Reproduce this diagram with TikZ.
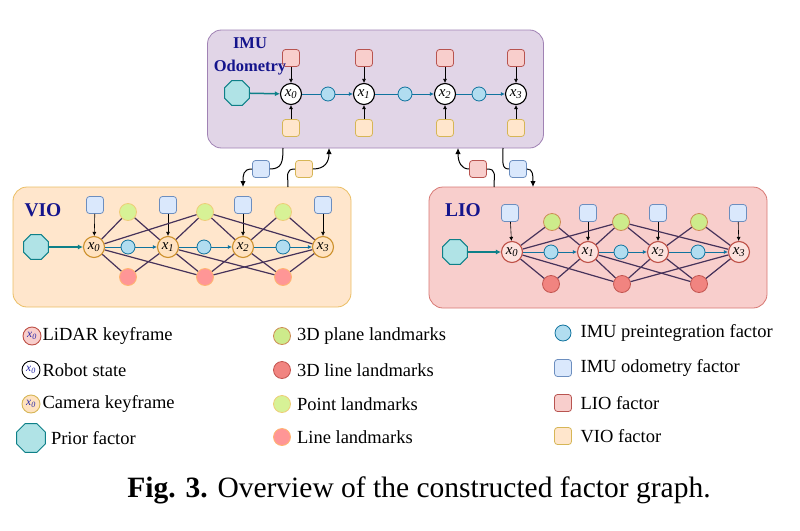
\documentclass[tikz,border=0pt]{standalone}
\usepackage{fontspec}
\setmainfont{Liberation Serif}
\usepackage{tikz}
\usetikzlibrary{shapes.geometric,arrows.meta,positioning}
\definecolor{imufill}{RGB}{225,213,231}
\definecolor{imuline}{RGB}{160,130,180}
\definecolor{viofill}{RGB}{255,230,204}
\definecolor{violine}{RGB}{235,190,100}
\definecolor{liofill}{RGB}{248,206,204}
\definecolor{lioline}{RGB}{215,120,115}
\definecolor{titleblue}{RGB}{20,20,140}
\definecolor{prifill}{RGB}{176,227,230}
\definecolor{priline}{RGB}{14,128,136}
\definecolor{pimfill}{RGB}{177,221,240}
\definecolor{pimline}{RGB}{16,115,158}
\definecolor{odofill}{RGB}{218,232,252}
\definecolor{odoline}{RGB}{108,142,191}
\definecolor{lfacfill}{RGB}{248,206,204}
\definecolor{lfacline}{RGB}{184,84,80}
\definecolor{vfacfill}{RGB}{255,230,204}
\definecolor{vfacline}{RGB}{214,182,86}
\definecolor{planefill}{RGB}{205,235,139}
\definecolor{planeline}{RGB}{205,140,85}
\definecolor{pointfill}{RGB}{215,242,150}
\definecolor{pointline}{RGB}{238,205,120}
\definecolor{llinefill}{RGB}{241,132,128}
\definecolor{llineline}{RGB}{195,85,80}
\definecolor{vlinefill}{RGB}{255,150,150}
\definecolor{vlineline}{RGB}{255,181,112}
\definecolor{vstfill}{RGB}{255,226,192}
\definecolor{vstline}{RGB}{205,145,45}
\definecolor{lstfill}{RGB}{252,226,222}
\definecolor{lstline}{RGB}{190,80,70}
\definecolor{obscol}{RGB}{70,50,90}
\definecolor{legblue}{RGB}{40,40,170}
\newcommand{\xk}[1]{\textit{x}\textsubscript{\textit{#1}}}
\newcommand{\legx}{\textcolor{legblue}{\fontsize{11.5}{11.5}\selectfont\xk{0}}}

\begin{document}
\begin{tikzpicture}[x=1pt,y=-1pt,
    box/.style={rectangle,rounded corners=14pt,line width=0.8pt,inner sep=0pt},
    state/.style={circle,draw,line width=1.1pt,minimum size=21pt,inner sep=0pt,font=\fontsize{15}{15}\selectfont},
    pim/.style={circle,draw=pimline,fill=pimfill,line width=0.8pt,minimum size=14pt,inner sep=0pt},
    fac/.style={rectangle,rounded corners=3pt,draw,line width=0.8pt,minimum size=17pt,inner sep=0pt},
    lmk/.style={circle,draw,line width=0.8pt,minimum size=17pt,inner sep=0pt},
    prior/.style={regular polygon,regular polygon sides=8,draw=priline,fill=prifill,line width=1pt,minimum size=27pt,inner sep=0pt},
    boxtitle/.style={font=\bfseries\fontsize{19.5}{22}\selectfont,text=titleblue},
    legtext/.style={inner sep=0pt,font=\fontsize{18.5}{20}\selectfont},
    priarr/.style={priline,line width=1.5pt,-{Latex[length=5pt,width=5pt]}},
    chain/.style={pimline,line width=0.8pt},
    chainarr/.style={chain,-{Latex[length=4pt,width=4pt]}},
    facarr/.style={black,line width=0.6pt,-{Latex[length=4pt,width=4pt]}},
    obs/.style={obscol,line width=1.2pt},
    link/.style={black,line width=1pt,-{Latex[length=6pt,width=5.5pt]}}]
\useasboundingbox (0,0) rectangle (800,530);

% the three sub-graphs
\node[box,draw=imuline,fill=imufill,minimum width=336pt,minimum height=118pt] (imu) at (375.5,89) {};
\node[box,draw=violine,fill=viofill,minimum width=338pt,minimum height=120pt] (vio) at (182,247) {};
\node[box,draw=lioline,fill=liofill,minimum width=338pt,minimum height=121pt] (lio) at (598,247.5) {};

% IMU odometry graph
\node[prior] (ipr) at (237,93) {};
\node[state,fill=white] (i0) at (291,94) {\xk{0}};
\node[state,fill=white] (i1) at (364,94) {\xk{1}};
\node[state,fill=white] (i2) at (445,94) {\xk{2}};
\node[state,fill=white] (i3) at (516,94) {\xk{3}};
\node[pim] (ip0) at (328,94) {}; \node[pim] (ip1) at (405,94) {}; \node[pim] (ip2) at (479,94) {};
\node[fac,draw=lfacline,fill=lfacfill] (il0) at (291,58) {}; \node[fac,draw=lfacline,fill=lfacfill] (il1) at (364,58) {};
\node[fac,draw=lfacline,fill=lfacfill] (il2) at (445,58) {}; \node[fac,draw=lfacline,fill=lfacfill] (il3) at (516,58) {};
\node[fac,draw=vfacline,fill=vfacfill] (iv0) at (291,128) {}; \node[fac,draw=vfacline,fill=vfacfill] (iv1) at (364,128) {};
\node[fac,draw=vfacline,fill=vfacfill] (iv2) at (445,128) {}; \node[fac,draw=vfacline,fill=vfacfill] (iv3) at (516,128) {};
\draw[priarr] (ipr) -- (i0);
\draw[chain] (i0) -- (ip0); \draw[chainarr] (ip0) -- (i1);
\draw[chain] (i1) -- (ip1); \draw[chainarr] (ip1) -- (i2);
\draw[chain] (i2) -- (ip2); \draw[chainarr] (ip2) -- (i3);
\draw[facarr] (il0) -- (i0); \draw[facarr] (il1) -- (i1); \draw[facarr] (il2) -- (i2); \draw[facarr] (il3) -- (i3);
\draw[facarr] (iv0) -- (i0); \draw[facarr] (iv1) -- (i1); \draw[facarr] (iv2) -- (i2); \draw[facarr] (iv3) -- (i3);
\node[boxtitle,font=\bfseries\fontsize{16.5}{23}\selectfont,align=center] (imut) at (250,56) {IMU\\Odometry};

% VIO graph
\node[boxtitle] (viot) at (43,210) {VIO};
\node[prior] (vpr) at (36,247) {};
\node[state,draw=vstline,fill=vstfill] (v0) at (94,247) {\xk{0}};
\node[state,draw=vstline,fill=vstfill] (v1) at (168,247) {\xk{1}};
\node[state,draw=vstline,fill=vstfill] (v2) at (243,247) {\xk{2}};
\node[state,draw=vstline,fill=vstfill] (v3) at (323,247) {\xk{3}};
\node[pim] (vp0) at (128,247) {}; \node[pim] (vp1) at (204,247) {}; \node[pim] (vp2) at (283,247) {};
\node[fac,draw=odoline,fill=odofill] (vo0) at (95,205) {}; \node[fac,draw=odoline,fill=odofill] (vo1) at (168,205) {};
\node[fac,draw=odoline,fill=odofill] (vo2) at (243,205) {}; \node[fac,draw=odoline,fill=odofill] (vo3) at (323,205) {};
\node[lmk,draw=pointline,fill=pointfill] (vg0) at (128,212) {}; \node[lmk,draw=pointline,fill=pointfill] (vg1) at (205,212) {};
\node[lmk,draw=pointline,fill=pointfill] (vg2) at (283,212) {};
\node[lmk,draw=vlineline,fill=vlinefill] (vr0) at (128,277) {}; \node[lmk,draw=vlineline,fill=vlinefill] (vr1) at (205,277) {};
\node[lmk,draw=vlineline,fill=vlinefill] (vr2) at (283,277) {};
\draw[priarr] (vpr) -- (v0);
\draw[chain] (v0) -- (vp0); \draw[chainarr] (vp0) -- (v1);
\draw[chain] (v1) -- (vp1); \draw[chainarr] (vp1) -- (v2);
\draw[chain] (v2) -- (vp2); \draw[chainarr] (vp2) -- (v3);
\draw[facarr] (vo0) -- (v0); \draw[facarr] (vo1) -- (v1); \draw[facarr] (vo2) -- (v2); \draw[facarr] (vo3) -- (v3);
\draw[obs] (vg0) -- (v0) (vg0) -- (v1);
\draw[obs] (vg1) -- (v0) (vg1) -- (v1) (vg1) -- (v2) (vg1) -- (v3);
\draw[obs] (vg2) -- (v2) (vg2) -- (v3);
\draw[obs] (vr0) -- (v0) (vr0) -- (v1);
\draw[obs] (vr1) -- (v0) (vr1) -- (v1) (vr1) -- (v2) (vr1) -- (v3);
\draw[obs] (vr2) -- (v1) (vr2) -- (v2) (vr2) -- (v3);

% LIO graph
\node[boxtitle] (liot) at (463,210) {LIO};
\node[prior] (lpr) at (455,252) {};
\node[state,draw=lstline,fill=lstfill] (l0) at (512,252) {\xk{0}};
\node[state,draw=lstline,fill=lstfill] (l1) at (588,252) {\xk{1}};
\node[state,draw=lstline,fill=lstfill] (l2) at (658,252) {\xk{2}};
\node[state,draw=lstline,fill=lstfill] (l3) at (739,252) {\xk{3}};
\node[pim] (lp0) at (551,252) {}; \node[pim] (lp1) at (621,252) {}; \node[pim] (lp2) at (698,252) {};
\node[fac,draw=odoline,fill=odofill] (lo0) at (510,213) {}; \node[fac,draw=odoline,fill=odofill] (lo1) at (588,213) {};
\node[fac,draw=odoline,fill=odofill] (lo2) at (658,213) {}; \node[fac,draw=odoline,fill=odofill] (lo3) at (738,213) {};
\node[lmk,draw=planeline,fill=planefill] (lg0) at (552,222) {}; \node[lmk,draw=planeline,fill=planefill] (lg1) at (621,222) {};
\node[lmk,draw=planeline,fill=planefill] (lg2) at (699,222) {};
\node[lmk,draw=llineline,fill=llinefill] (lr0) at (551,284) {}; \node[lmk,draw=llineline,fill=llinefill] (lr1) at (622,284) {};
\node[lmk,draw=llineline,fill=llinefill] (lr2) at (699,284) {};
\draw[priarr] (lpr) -- (l0);
\draw[chain] (l0) -- (lp0); \draw[chainarr] (lp0) -- (l1);
\draw[chain] (l1) -- (lp1); \draw[chainarr] (lp1) -- (l2);
\draw[chain] (l2) -- (lp2); \draw[chainarr] (lp2) -- (l3);
\draw[facarr] (lo0) -- (l0); \draw[facarr] (lo1) -- (l1); \draw[facarr] (lo2) -- (l2); \draw[facarr] (lo3) -- (l3);
\draw[obs] (lg0) -- (l0) (lg0) -- (l1);
\draw[obs] (lg1) -- (l0) (lg1) -- (l1) (lg1) -- (l2) (lg1) -- (l3);
\draw[obs] (lg2) -- (l2) (lg2) -- (l3);
\draw[obs] (lr0) -- (l0) (lr0) -- (l1);
\draw[obs] (lr1) -- (l0) (lr1) -- (l1) (lr1) -- (l2) (lr1) -- (l3);
\draw[obs] (lr2) -- (l1) (lr2) -- (l2) (lr2) -- (l3);

% links between the graphs
\coordinate (imuA) at (283,148); \coordinate (vioA) at (243,187);
\coordinate (vioB) at (288,187); \coordinate (imuB) at (329,148);
\coordinate (lioA) at (494,187); \coordinate (imuC) at (458,148);
\coordinate (imuD) at (503,148); \coordinate (lioB) at (533,187);
\node[fac,draw=odoline,fill=odofill] (bv) at (261,169) {};
\node[fac,draw=vfacline,fill=vfacfill] (yv) at (304,169) {};
\node[fac,draw=lfacline,fill=lfacfill] (rl) at (478,169) {};
\node[fac,draw=odoline,fill=odofill] (bl) at (518,169) {};
\draw[link] (imuA) .. controls +(0,14) and +(12,0) .. (bv.east) (bv.west) .. controls +(-9,0) and +(0,-12) .. (vioA);
\draw[link] (vioB) .. controls +(0,-12) and +(-10,0) .. (yv.west) (yv.east) .. controls +(12,0) and +(0,14) .. (imuB);
\draw[link] (lioA) .. controls +(0,-12) and +(10,0) .. (rl.east) (rl.west) .. controls +(-8,0) and +(0,14) .. (imuC);
\draw[link] (imuD) .. controls +(0,14) and +(-8,0) .. (bl.west) (bl.east) .. controls +(6,0) and +(0,-12) .. (lioB);

% legend
\node[state,draw=lstline,fill=lfacfill,line width=0.9pt,minimum size=18pt] (k1) at (32,336) {\legx};
\node[legtext,right=1pt of k1] {LiDAR keyframe};
\node[state,fill=white,line width=0.9pt,minimum size=18pt] (k2) at (31,370) {\legx};
\node[legtext,right=2pt of k2] {Robot state};
\node[state,draw=vfacline,fill=vstfill,line width=0.9pt,minimum size=18pt] (k3) at (31,404) {\legx};
\node[legtext,right=2pt of k3] {Camera keyframe};
\node[prior,minimum size=31pt] (k4) at (31,438) {};
\node[legtext,right=5pt of k4] {Prior factor};
\node[lmk,draw=planeline,fill=planefill] (m1) at (282,336) {};
\node[legtext,right=6pt of m1] {3D plane landmarks};
\node[lmk,draw=llineline,fill=llinefill] (m2) at (282,370) {};
\node[legtext,right=6pt of m2] {3D line landmarks};
\node[lmk,draw=pointline,fill=pointfill] (m3) at (282,404) {};
\node[legtext,right=6pt of m3] {Point landmarks};
\node[lmk,draw=vlineline,fill=vlinefill] (m4) at (282,437) {};
\node[legtext,right=6pt of m4] {Line landmarks};
\node[pim,minimum size=16pt] (n1) at (563,333) {};
\node[legtext,right=9pt of n1] {IMU preintegration factor};
\node[fac,draw=odoline,fill=odofill] (n2) at (563,368) {};
\node[legtext,right=8.5pt of n2] {IMU odometry factor};
\node[fac,draw=lfacline,fill=lfacfill] (n3) at (563,403) {};
\node[legtext,right=8.5pt of n3] {LIO factor};
\node[fac,draw=vfacline,fill=vfacfill] (n4) at (563,436) {};
\node[legtext,right=8.5pt of n4] {VIO factor};

% caption
\node[font=\fontsize{29.5}{32}\selectfont] (cap) at (419,490) {\textbf{Fig. 3.} Overview of the constructed factor graph.};
\end{tikzpicture}
\end{document}
